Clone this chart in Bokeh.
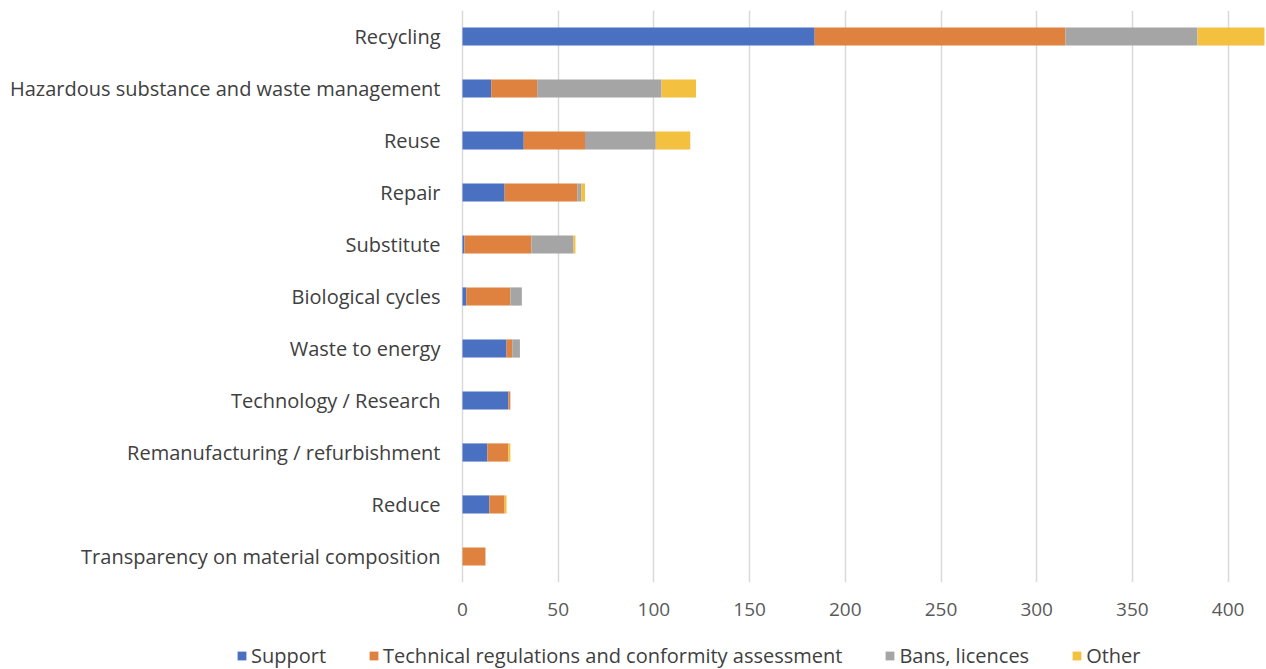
from bokeh.plotting import figure
from bokeh.layouts import column
from bokeh.models import ColumnDataSource, FactorRange, Range1d, Legend, LegendItem, FixedTicker
from bokeh.core.properties import value
from bokeh.embed import file_html
from bokeh.resources import INLINE

categories = [
    "Recycling",
    "Hazardous substance and waste management",
    "Reuse",
    "Repair",
    "Substitute",
    "Biological cycles",
    "Waste to energy",
    "Technology / Research",
    "Remanufacturing / refurbishment",
    "Reduce",
    "Transparency on material composition",
]
support = [184, 15, 32, 22, 1, 2, 23, 24, 13, 14, 0]
technical = [131, 24, 32, 38, 35, 23, 3, 1, 11, 8, 12]
bans = [69, 65, 37, 2, 22, 6, 4, 0, 0, 0, 0]
other = [35, 18, 18, 2, 1, 0, 0, 0, 1, 1, 0]

series = ["support", "technical", "bans", "other"]
labels = ["Support", "Technical regulations and conformity assessment", "Bans, licences", "Other"]
colors = ["#4a70c2", "#e0823f", "#a5a5a5", "#f4c040"]
x_ticks = [0, 50, 100, 150, 200, 250, 300, 350, 400]

src = ColumnDataSource(dict(cat=categories, support=support, technical=technical, bans=bans, other=other))

W = 1266
LEFT = 462          # pixel where value 0 sits
SCALE = 1.914       # pixels per unit
p = figure(width=W, height=630, output_backend="svg", toolbar_location=None,
           y_range=FactorRange(*categories[::-1], range_padding=0),
           x_range=Range1d(-LEFT / SCALE, (W - LEFT) / SCALE),
           min_border_left=0, min_border_right=0, min_border_top=10, min_border_bottom=48)
p.yaxis.visible = False

p.hbar_stack(series, y="cat", height=0.35, color=colors, source=src, line_width=0)
p.text(x=0, y="cat", text="cat", source=src, x_offset=-22, text_align="right",
       text_baseline="middle", text_font=value("Open Sans"), text_font_size="20px",
       text_color="#404040")

p.outline_line_color = None
p.ygrid.grid_line_color = None
p.xgrid.grid_line_color = "#d9d9d9"
p.xgrid.grid_line_width = 1.5
p.xaxis.ticker = FixedTicker(ticks=x_ticks)
p.xaxis.axis_line_color = None
p.xaxis.major_tick_line_color = None
p.xaxis.minor_tick_line_color = None
p.xaxis.major_tick_out = 0
p.xaxis.major_tick_in = 0
p.xaxis.major_label_text_font = "Open Sans"
p.xaxis.major_label_text_font_size = "19px"
p.xaxis.major_label_text_color = "#595959"
p.xaxis.major_label_standoff = 20

# legend strip
lg = figure(width=W, height=39, output_backend="svg", toolbar_location=None,
            x_range=Range1d(0, 1), y_range=Range1d(0, 1),
            min_border_left=0, min_border_right=0, min_border_top=0, min_border_bottom=0)
lg.axis.visible = False
lg.grid.visible = False
lg.outline_line_color = None
dummies = [lg.rect(x=[-10], y=[-10], width=1, height=1, fill_color=c, line_color=None) for c in colors]
items = [LegendItem(label=l, renderers=[r]) for l, r in zip(labels, dummies)]
legend = Legend(items=items, orientation="horizontal", location=(236, 0),
                label_text_font="Open Sans", label_text_font_size="20px",
                label_text_color="#404040", glyph_width=11, glyph_height=11,
                spacing=42, label_standoff=4, padding=0, margin=0,
                border_line_color=None, background_fill_alpha=0)
lg.add_layout(legend)

layout = column(p, lg, spacing=0)
open("out.html", "w").write(file_html(layout, INLINE))
